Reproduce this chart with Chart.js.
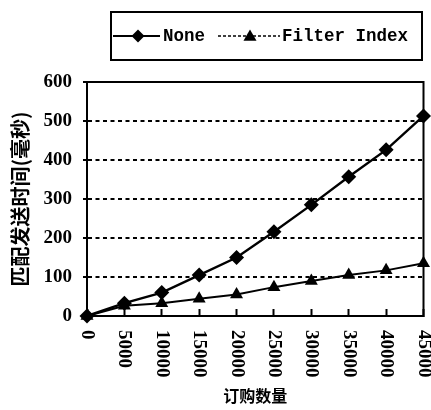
<!DOCTYPE html>
<html>
<head>
<meta charset="utf-8">
<script src="https://cdn.jsdelivr.net/npm/chart.js@4"></script>
<style>
  html, body { margin: 0; padding: 0; background: #fff; }
  #wrap { width: 431px; height: 410px; }
</style>
</head>
<body>
<div id="wrap"><canvas id="matchChart" width="431" height="410"></canvas></div>
<script>
// data
var xLabels = ['0', '5000', '10000', '15000', '20000', '25000', '30000', '35000', '40000', '45000'];
var noneValues = [0, 33, 60, 105, 150, 216, 285, 357, 426, 513];
var filterValues = [0, 26, 33, 44, 55, 74, 90, 105, 117, 135];
var seriesNames = ['None', 'Filter Index'];
var yTicks = [0, 100, 200, 300, 400, 500, 600];
var xTitle = '订购数量';
var yTitle = '匹配发送时间(毫秒)';

var serif = '"Liberation Serif", "Times New Roman", serif';
var cjk = '"Noto Sans CJK SC", sans-serif';

// small helpers for the hand drawn legend markers
function diamond(ctx, x, y, r) {
  ctx.beginPath();
  ctx.moveTo(x, y - r);
  ctx.lineTo(x + r, y);
  ctx.lineTo(x, y + r);
  ctx.lineTo(x - r, y);
  ctx.closePath();
  ctx.fill();
}

function triangle(ctx, x, y, r) {
  ctx.beginPath();
  ctx.moveTo(x, y - r);
  ctx.lineTo(x + r * 0.87, y + r * 0.5);
  ctx.lineTo(x - r * 0.87, y + r * 0.5);
  ctx.closePath();
  ctx.fill();
}

// frame round the plot area
var framePlugin = {
  id: 'frame',
  beforeDatasetsDraw: function(chart) {
    var a = chart.chartArea;
    var ctx = chart.ctx;
    ctx.save();
    ctx.strokeStyle = '#000';
    ctx.lineWidth = 2;
    ctx.strokeRect(a.left, a.top, a.right - a.left, a.bottom - a.top);
    ctx.restore();
  }
};

// x tick labels read top to bottom, so draw them here
var xLabelPlugin = {
  id: 'xLabels',
  afterDraw: function(chart) {
    var scale = chart.scales.x;
    var ctx = chart.ctx;
    ctx.save();
    ctx.fillStyle = '#000';
    ctx.font = 'bold 19px ' + serif;
    ctx.textAlign = 'left';
    ctx.textBaseline = 'middle';
    for (var i = 0; i < xLabels.length; i++) {
      var x = scale.getPixelForTick(i);
      ctx.save();
      ctx.translate(x, chart.chartArea.bottom + 14);
      ctx.rotate(Math.PI / 2);
      ctx.fillText(xLabels[i], 0, 0);
      ctx.restore();
    }
    ctx.restore();
  }
};

// boxed legend at the top
var legendPlugin = {
  id: 'boxLegend',
  afterDraw: function(chart) {
    var ctx = chart.ctx;
    var cy = 36;
    ctx.save();
    ctx.strokeStyle = '#000';
    ctx.lineWidth = 2;
    ctx.strokeRect(111, 12, 311, 48);

    ctx.fillStyle = '#000';
    ctx.lineWidth = 2;
    ctx.beginPath();
    ctx.moveTo(113, cy);
    ctx.lineTo(160, cy);
    ctx.stroke();
    diamond(ctx, 138, cy, 6.5);

    ctx.lineWidth = 1.5;
    ctx.setLineDash([3, 2]);
    ctx.beginPath();
    ctx.moveTo(218, cy);
    ctx.lineTo(280, cy);
    ctx.stroke();
    ctx.setLineDash([]);
    triangle(ctx, 250, cy + 1, 7.5);

    ctx.font = 'bold 17.5px "Liberation Mono", monospace';
    ctx.textBaseline = 'middle';
    ctx.fillText(seriesNames[0], 163, cy + 1);
    ctx.fillText(seriesNames[1], 282, cy + 1);
    ctx.restore();
  }
};

var matchChart = new Chart(document.getElementById('matchChart'), {
  type: 'line',
  data: {
    labels: xLabels,
    datasets: [
      {
        label: seriesNames[0],
        data: noneValues,
        borderColor: '#000',
        backgroundColor: '#000',
        borderWidth: 2.4,
        pointStyle: 'rectRot',
        pointRadius: 7.5,
        pointBorderWidth: 0,
        tension: 0,
        clip: false
      },
      {
        label: seriesNames[1],
        data: filterValues,
        borderColor: '#000',
        backgroundColor: '#000',
        borderWidth: 2,
        pointStyle: 'triangle',
        pointRadius: 7.5,
        pointBorderWidth: 0,
        tension: 0,
        clip: false
      }
    ]
  },
  options: {
    responsive: false,
    animation: false,
    devicePixelRatio: 1,
    layout: {
      padding: { top: 82, right: 4, left: 0, bottom: 0 }
    },
    plugins: {
      legend: { display: false },
      tooltip: { enabled: false }
    },
    scales: {
      x: {
        offset: false,
        grid: {
          drawOnChartArea: false,
          drawTicks: true,
          tickLength: -7,
          tickColor: '#000',
          tickWidth: 2
        },
        border: { display: true, color: '#000', width: 2 },
        ticks: {
          color: 'rgba(0,0,0,0)',
          autoSkip: false,
          font: { size: 19, weight: 'bold', family: serif }
        },
        title: {
          display: true,
          text: xTitle,
          color: '#000',
          font: { size: 16, weight: 'bold', family: cjk },
          padding: { top: 0, bottom: 4 }
        },
        afterFit: function(scale) {
          scale.height = 94;
          scale.paddingLeft = 0;
          scale.paddingRight = 0;
        }
      },
      y: {
        min: 0,
        max: 600,
        afterBuildTicks: function(scale) {
          scale.ticks = yTicks.map(function(v) { return { value: v }; });
        },
        grid: {
          color: '#000',
          lineWidth: 2,
          drawTicks: true,
          tickLength: 4,
          tickColor: '#000',
          tickWidth: 2,
          tickBorderDash: []
        },
        border: { display: true, color: '#000', width: 2, dash: [4, 3.5] },
        ticks: {
          color: '#000',
          padding: 11,
          font: { size: 19, weight: 'bold', family: serif }
        },
        title: {
          display: true,
          text: yTitle,
          color: '#000',
          font: { size: 20, weight: 'bold', family: cjk },
          padding: { top: 8, bottom: 0 }
        },
        afterFit: function(scale) { scale.width = 87; }
      }
    }
  },
  plugins: [framePlugin, xLabelPlugin, legendPlugin]
});
</script>
</body>
</html>
